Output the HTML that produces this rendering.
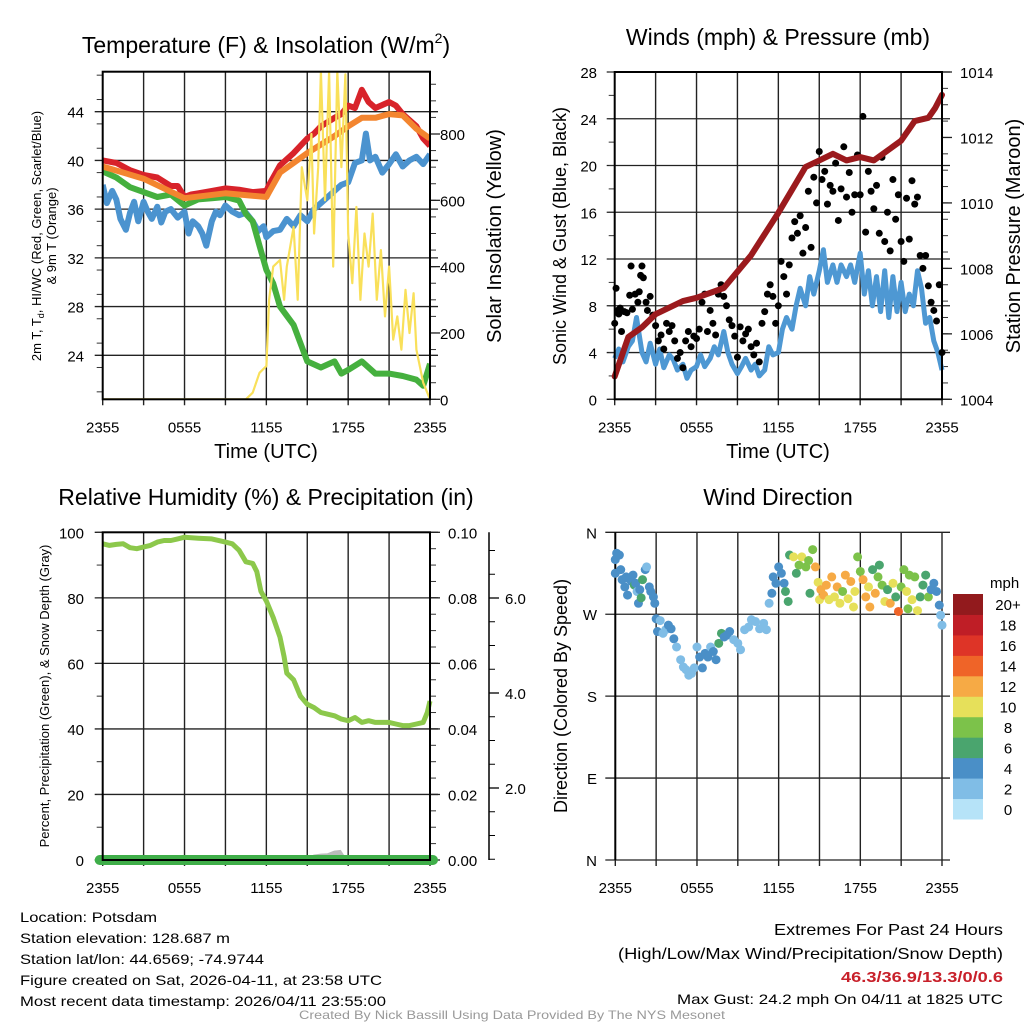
<!DOCTYPE html>
<html><head><meta charset="utf-8"><style>
html,body{margin:0;padding:0;background:#fff;}
svg{display:block;font-family:"Liberation Sans",Arial,sans-serif;}
</style></head><body>
<svg id="fig" width="1024" height="1024" viewBox="0 0 1024 1024" xmlns="http://www.w3.org/2000/svg">
<rect width="1024" height="1024" fill="#fff"/>
<text x="266" y="53" font-size="23" text-anchor="middle">Temperature (F) &amp; Insolation (W/m<tspan font-size="14" dy="-10">2</tspan><tspan dy="10">)</tspan></text>
<text x="778" y="45" font-size="23" text-anchor="middle">Winds (mph) &amp; Pressure (mb)</text>
<text x="266" y="505" font-size="23" text-anchor="middle">Relative Humidity (%) &amp; Precipitation (in)</text>
<text x="778" y="505" font-size="23" text-anchor="middle">Wind Direction</text>
<text x="266" y="458" font-size="20" text-anchor="middle">Time (UTC)</text>
<text x="778" y="458" font-size="20" text-anchor="middle">Time (UTC)</text>
<g transform="translate(41,236) rotate(-90)">
<text x="0" y="0" font-size="13" text-anchor="middle">2m T, T<tspan font-size="9" dy="3">d</tspan><tspan dy="-3">, HI/WC (Red, Green, Scarlet/Blue)</tspan></text>
<text x="0" y="15" font-size="13" text-anchor="middle">&amp; 9m T (Orange)</text></g>
<text transform="translate(501,236) rotate(-90)" font-size="20" text-anchor="middle">Solar Insolation (Yellow)</text>
<text transform="translate(566,236) rotate(-90)" font-size="18" text-anchor="middle">Sonic Wind &amp; Gust (Blue, Black)</text>
<text transform="translate(1020,236) rotate(-90)" font-size="20" text-anchor="middle">Station Pressure (Maroon)</text>
<text transform="translate(49,696) rotate(-90)" font-size="13" text-anchor="middle">Percent, Precipitation (Green), &amp; Snow Depth (Gray)</text>
<text transform="translate(567,696) rotate(-90)" font-size="18" text-anchor="middle">Direction (Colored By Speed)</text>
<g id="layer"></g>
<g font-size="14">
<text x="20" y="922" textLength="137" lengthAdjust="spacingAndGlyphs">Location: Potsdam</text>
<text x="20" y="943" textLength="210" lengthAdjust="spacingAndGlyphs">Station elevation: 128.687 m</text>
<text x="20" y="964" textLength="244" lengthAdjust="spacingAndGlyphs">Station lat/lon: 44.6569; -74.9744</text>
<text x="20" y="985" textLength="362" lengthAdjust="spacingAndGlyphs">Figure created on Sat, 2026-04-11, at 23:58 UTC</text>
<text x="20" y="1006" textLength="366" lengthAdjust="spacingAndGlyphs">Most recent data timestamp: 2026/04/11 23:55:00</text>
</g>
<g text-anchor="end">
<text x="1003" y="935" font-size="16" textLength="229" lengthAdjust="spacingAndGlyphs">Extremes For Past 24 Hours</text>
<text x="1003" y="959" font-size="16" textLength="385" lengthAdjust="spacingAndGlyphs">(High/Low/Max Wind/Precipitation/Snow Depth)</text>
<text x="1003" y="982" font-size="15" font-weight="bold" fill="#c8202a" textLength="162" lengthAdjust="spacingAndGlyphs">46.3/36.9/13.3/0/0.6</text>
<text x="1003" y="1004" font-size="14" textLength="326" lengthAdjust="spacingAndGlyphs">Max Gust: 24.2 mph On 04/11 at 1825 UTC</text>
</g>
<text x="512" y="1019" font-size="12" fill="#999" text-anchor="middle" textLength="426" lengthAdjust="spacingAndGlyphs">Created By Nick Bassill Using Data Provided By The NYS Mesonet</text>
</svg>
<script>
const xTickLabels = ["2355","0555","1155","1755","2355"];
const tempHours = [0,1,2,3,4,5,5.5,6,6.5,7,8,9,10,11,12,12.2,13,14,15,15.5,16,17,17.5,18,18.5,19,19.5,20,21,21.5,22,23,23.5,24];
const tempRed = [40.0,39.8,39.2,38.8,38.6,37.9,37.9,37.0,37.2,37.3,37.5,37.7,37.6,37.4,37.5,38.0,39.6,40.6,41.8,42.2,42.8,43.5,43.8,44.5,44.3,45.8,44.8,44.3,44.8,44.5,43.8,42.8,41.8,41.2];
const orangeHours = [0,3,6,9,12,12.2,13,14,15,16,17,18,19,20,21,22,23,24];
const temp9m = [39.5,38.5,36.9,37.3,37.0,37.4,39.0,39.8,40.6,41.3,42.0,42.8,43.5,43.5,43.8,43.7,42.6,41.8];
const greenHours = [0,1,2,3,4,5,6,7,8,9,10,10.5,11,11.5,12,12.5,13,14,14.5,15,16,17,17.5,18,19,20,21,22,23,23.5,24];
const dewpoint = [39.1,38.6,37.8,37.4,37.0,37.2,36.3,36.8,36.9,37.0,36.7,35.6,35.0,33.0,31.0,29.9,28.0,26.5,25.0,23.5,23.0,23.5,22.5,22.8,23.5,22.5,22.5,22.3,22.0,21.5,23.3];
const blueHours = [0,0.3,0.7,1,1.3,1.7,2,2.3,2.6,3,3.3,3.6,4,4.3,4.6,5,5.5,6,6.3,6.6,7,7.3,7.6,8,8.3,8.6,9,9.5,10,10.5,11,11.4,11.8,12,12.5,13,13.5,14,14.5,15,15.5,16,16.5,17,17.5,18,18.5,19,19.3,19.6,20,20.5,21,21.5,22,22.5,23,23.5,24];
const tempBlue = [38.0,36.5,37.5,36.8,35.2,34.3,35.7,36.6,35.0,36.6,35.8,35.2,36.2,34.9,35.8,36.0,35.3,35.8,34.0,35.0,34.6,34.0,33.0,35.0,35.8,35.5,36.3,35.8,35.5,35.7,35.0,34.2,34.6,33.7,34.2,34.3,35.2,34.6,35.5,35.0,36.0,36.5,37.0,37.5,38.0,38.2,39.8,40.0,42.2,40.0,40.3,39.0,39.7,40.5,39.5,40.0,40.3,39.7,40.5];
const solarHours = [0,10.5,11,11.5,12,12.2,12.5,13,13.3,13.5,14,14.3,14.6,15,15.3,15.5,15.8,16,16.3,16.6,16.9,17.2,17.5,17.8,18,18.3,18.6,18.9,19.2,19.5,19.8,20.1,20.4,20.7,21,21.3,21.6,21.9,22.2,22.5,22.8,23,23.5,24];
const solar = [0,0,20,80,100,300,400,420,300,400,520,300,700,600,800,500,700,990,600,990,400,990,700,980,500,350,580,300,500,400,560,300,450,250,400,180,250,150,330,200,320,150,50,0];
const tempTicks = [24,28,32,36,40,44];
const solarTicks = [0,200,400,600,800];

const presHours = [0,1,2,3,5,6,8,9,10,12,13,14,15,16,17,18,19,20,21,22,23,23.5,24];
const pressure = [1004.7,1005.9,1006.2,1006.6,1007.0,1007.1,1007.4,1007.9,1008.4,1009.7,1010.4,1011.1,1011.3,1011.5,1011.3,1011.4,1011.3,1011.6,1011.9,1012.5,1012.6,1012.9,1013.3];
const windHours = [0,0.3,0.6,1,1.3,1.6,2,2.3,2.6,3,3.3,3.6,4,4.3,4.6,5,5.3,5.6,6,6.3,6.6,7,7.3,7.6,8,8.3,8.6,9,9.3,9.6,10,10.3,10.6,11,11.3,11.6,12,12.3,12.6,13,13.3,13.6,14,14.3,14.6,15,15.3,15.6,16,16.3,16.6,17,17.3,17.6,18,18.3,18.6,18.9,19.2,19.5,19.8,20.1,20.4,20.7,21,21.3,21.6,21.9,22.2,22.5,22.8,23.1,23.4,23.7,24];
const windSpeed = [3.5,4.3,3.2,4.5,5.0,7.0,4.0,3.2,4.8,3.0,4.3,2.7,3.8,3.4,2.5,3.0,1.8,2.5,2.8,3.8,2.8,3.5,4.5,3.8,5.8,4.0,3.0,2.2,2.8,3.5,2.5,3.0,2.0,2.5,4.5,3.8,4.0,6.0,7.0,6.0,8.0,9.5,8.0,10.5,9.0,11.0,12.8,10.0,11.5,10.0,11.5,10.5,11.5,10.0,12.5,9.0,11.0,8.0,10.5,7.5,11.0,7.0,10.5,7.5,10.0,7.5,9.0,8.0,11.0,9.5,6.5,7.0,5.0,4.0,2.5];
const gustHours = [0,0.1,0.2,0.3,0.4,0.5,0.7,0.9,1.1,1.2,1.3,1.5,1.7,1.8,1.9,2.0,2.1,2.3,2.4,2.6,2.8,3.0,3.2,3.4,3.6,3.8,4.0,4.2,4.4,4.6,4.8,5.0,5.2,5.4,5.6,5.8,6.0,6.2,6.4,6.6,6.8,7.0,7.2,7.4,7.6,7.8,8.0,8.2,8.4,8.6,8.8,9.0,9.2,9.4,9.6,9.8,10.0,10.2,10.4,10.6,10.8,11.0,11.2,11.4,11.6,11.8,12.0,12.2,12.4,12.6,12.8,13.0,13.2,13.4,13.6,13.8,14.0,14.2,14.4,14.6,14.8,15.0,15.2,15.4,15.6,15.8,16.0,16.2,16.4,16.6,16.8,17.0,17.2,17.4,17.6,17.8,18.0,18.2,18.4,18.6,18.8,19.0,19.2,19.4,19.6,19.8,20.0,20.2,20.4,20.6,20.8,21.0,21.2,21.4,21.6,21.8,22.0,22.2,22.4,22.6,22.8,23.0,23.2,23.4,23.6,23.8,24.0];
const gusts = [6.5,9.5,7.6,7.3,7.8,5.8,7.5,7.4,8.9,11.4,7.7,9.0,8.3,9.2,10.6,11.4,10.4,8.3,7.6,8.8,7.2,6.3,5.0,5.5,4.3,6.5,5.8,6.3,5.0,3.5,4.0,2.7,5.0,5.8,4.5,5.4,5.2,6.0,8.3,9.0,5.8,7.6,6.5,5.5,9.0,9.8,8.8,8.0,6.8,6.3,5.4,3.6,6.2,5.0,5.6,6.0,4.5,3.8,4.8,3.2,6.5,7.5,9.0,9.8,8.8,6.5,8.0,11.8,10.5,9.0,11.5,13.8,15.2,14.2,15.7,12.5,14.7,17.8,13.0,19.0,16.8,21.2,18.8,19.5,16.7,18.3,17.8,20.2,15.3,18.0,21.6,17.3,19.4,16.0,17.5,20.9,17.5,24.2,14.3,19.5,17.8,16.3,18.3,14.2,20.7,13.5,16.0,12.7,18.8,15.4,17.5,13.5,11.8,17.2,13.7,18.7,16.7,17.3,12.3,11.2,12.3,9.7,8.3,7.6,6.7,9.8,4.0];
const windTicks = [0,4,8,12,16,20,24,28];
const presTicks = [1004,1006,1008,1010,1012,1014];

const rhHours = [0,0.5,1,1.5,2,2.5,3,3.5,4,4.5,5,5.5,6,7,8,9,9.5,10,10.5,11,11.3,11.6,12,12.5,13,13.3,13.5,14,14.5,15,15.5,16,16.5,17,17.5,18,18.5,19,19.5,20,20.5,21,21.5,22,22.5,23,23.5,23.8,24];
const humidity = [96.5,96.0,96.3,96.5,95.3,95.0,95.5,96.0,97.0,97.5,97.5,98.0,98.5,98.2,98.0,97.0,96.5,94.5,91.0,90.5,88.0,82.0,79.0,74.0,68.0,62.0,57.0,55.0,50.0,47.5,46.5,45.0,44.5,44.0,43.0,42.5,43.5,42.0,42.5,42.0,42.0,42.0,41.5,41.0,41.0,41.5,42.0,45.0,48.5];
const snowHours = [15.2,15.5,16,16.5,17,17.4,17.8];
const snowDepth = [0,1.2,1.5,1.6,2.4,2.6,0];
const rhTicks = [0,20,40,60,80,100];
const precipTicks = ["0.00","0.02","0.04","0.06","0.08","0.10"];
const snowTicks = ["2.0","4.0","6.0"];

const dirLabels = ["N","E","S","W","N"];
const dirHours = [0,0,0.1,0.3,0.4,0.5,0.7,0.8,0.9,1,1.2,1.3,1.4,1.5,1.6,1.7,1.8,1.9,2,2.2,2.3,2.5,2.6,2.8,2.9,3,3.1,3.3,3.5,3.7,3.9,4.1,4.3,4.5,4.8,5,5.2,5.4,5.6,5.8,6,6.2,6.4,6.6,6.8,7,7.2,7.4,7.6,7.8,8,8.2,8.4,8.7,9,9.2,9.5,9.8,10,10.3,10.6,10.9,11.1,11.3,11.5,11.6,11.8,12,12.2,12.4,12.5,12.7,12.8,13.1,13.3,13.5,13.7,14,14.2,14.3,14.5,14.7,14.9,15,15.1,15.3,15.5,15.7,15.9,16.1,16.3,16.5,16.7,16.9,17.1,17.3,17.5,17.6,17.8,18,18.2,18.4,18.6,18.7,18.9,19.1,19.3,19.4,19.6,19.8,20,20.2,20.4,20.6,20.8,21,21.2,21.4,21.5,21.6,21.8,22,22.2,22.4,22.6,22.8,23,23.2,23.4,23.6,23.8,23.9,24];
const direction = [330,315,337,335,319,308,300,311,291,309,306,313,302,304,295,282,297,288,308,319,322,300,295,289,282,265,251,263,249,253,258,254,243,234,220,212,209,203,205,211,234,223,211,227,223,234,229,220,238,249,245,247,251,242,238,231,253,256,264,262,254,260,253,282,293,311,304,322,315,304,295,284,335,333,315,324,333,322,329,293,341,322,305,286,297,291,302,286,311,289,300,282,295,313,287,306,278,295,333,317,308,289,300,278,319,293,311,324,302,284,297,282,304,289,273,300,319,295,276,313,286,311,274,289,302,313,289,297,304,295,280,269,258];
const dirSpeed = [4,4,4,4,3,4,3,4,3,4,4,4,6,4,2,4,4,6,6,4,2,4,4,4,4,4,4,2,2,2,4,4,4,2,2,2,2,1,2,2,2,4,4,4,4,2,4,4,6,6,4,4,4,2,2,2,2,2,2,2,2,2,2,2,4,4,4,4,4,4,6,6,6,10,6,7,9,8,8,6,8,12,10,10,12,12,11,10,12,10,12,10,8,12,10,12,10,10,8,7,12,12,10,11,6,12,8,6,8,10,6,12,10,6,13,7,8,10,8,7,10,7,10,6,6,6,8,4,4,4,4,2,2];
const speedBinLabels = ["0","2","4","6","8","10","12","14","16","18","20+"];
const speedBinColors = ["#b6e3f8","#80bde6","#4a8fc7","#4aa56e","#7cc24a","#e6e05a","#f6aa45","#ef6428","#de3427","#bf1e26","#921a1d"];

const NS = "http://www.w3.org/2000/svg";
const layer = document.getElementById("layer");
function mk(tag, attrs, parent) {
  const e = document.createElementNS(NS, tag);
  for (const k in attrs) e.setAttribute(k, attrs[k]);
  (parent || layer).appendChild(e);
  return e;
}
function linScale(d0, d1, r0, r1) { return v => r0 + (v - d0) / (d1 - d0) * (r1 - r0); }

function panelFrame(L, R, T, B, name) {
  const g = mk("g", {});
  
  
  const xs = linScale(0, 24, L, R);
  for (let h = 0; h <= 24; h += 3) {
    const vl = mk("line", {x1: xs(h), x2: xs(h), y1: T, y2: B + 6, stroke: "#222", "stroke-width": 1.4}, g);
    
    
  }
  xTickLabels.forEach((lab, i) => {
    const t = mk("text", {x: xs(i * 6), y: B + 33, "font-size": 15, "text-anchor": "middle"}, g);
    t.textContent = lab;
    
    
  });
  return {g, xs};
}
function hGrid(g, ys, ticks, L, R, leftLabels, x) {
  ticks.forEach((v, i) => {
    const y = ys(v);
    const ln = mk("line", {x1: L - 8, x2: R + 8, y1: y, y2: y, stroke: "#222", "stroke-width": 1.3}, g);
    
    
    if (leftLabels) {
      const t = mk("text", {x: x, y: y + 6, "font-size": 15, "text-anchor": "end"}, g);
      t.textContent = leftLabels[i];
      
      
    }
  });
}
function minorTicks(g, xPos, y0, y1, n, dir) {
  for (let i = 0; i <= n; i++) {
    const y = y0 + (y1 - y0) * i / n;
    mk("line", {x1: xPos, x2: xPos + dir * 6, y1: y, y2: y, stroke: "#333", "stroke-width": 1}, g);
  }
}
function rightLabels(g, ys, ticks, labels, x, R) {
  ticks.forEach((v, i) => {
    const y = ys(v);
    mk("line", {x1: R, x2: R + 10, y1: y, y2: y, stroke: "#222", "stroke-width": 1.3}, g);
    const t = mk("text", {x: x, y: y + 6, "font-size": 15}, g);
    t.textContent = labels[i];
    
    
  });
}
function pathFrom(xsArr, ysArr, xs, ys) {
  return xsArr.map((h, i) => (i ? "L" : "M") + xs(h).toFixed(1) + "," + ys(ysArr[i]).toFixed(1)).join("");
}
function border(g, L, R, T, B) {
  mk("rect", {x: L, y: T, width: R - L, height: B - T, fill: "none", stroke: "#000", "stroke-width": 2}, g);
}

(function () {
  const L = 102.7, R = 430, T = 71.7, B = 399.3;
  const {g, xs} = panelFrame(L, R, T, B, "temperature-panel");
  const ys = linScale(24, 44, 355.3, 111.7);
  const ysS = linScale(0, 800, 399.3, 134);
  hGrid(g, ys, tempTicks, L, R, tempTicks.map(String), 84);
  minorTicks(g, L, ys(47), ys(21), 13, -1);
  minorTicks(g, R, ysS(950), ysS(0), 19, 1);
  rightLabels(g, ysS, solarTicks, solarTicks.map(String), 440, R);
  const cl = mk("clipPath", {id: "c1"}); mk("rect", {x: L, y: T, width: R - L, height: B - T}, cl);
  const pg = mk("g", {"clip-path": "url(#c1)"}, g);
  const series = [
    [blueHours, tempBlue, "#4b93cf", 6, "temp-blue-line"],
    [greenHours, dewpoint, "#45b03e", 6, "dewpoint-line"],
    [tempHours, tempRed, "#d8232a", 6, "temp-red-line"],
    [orangeHours, temp9m, "#f3852f", 6, "temp-9m-line"],
  ];
  series.forEach(s => {
    const p = mk("path", {d: pathFrom(s[0], s[1], xs, ys), fill: "none", stroke: s[2], "stroke-width": s[3], "stroke-linejoin": "round"}, pg);
    
    
  });
  const ps = mk("path", {d: pathFrom(solarHours, solar, xs, ysS), fill: "none", stroke: "#f9e05a", "stroke-width": 2.2, "stroke-linejoin": "round"}, pg);
  
  
  border(g, L, R, T, B);
})();

(function () {
  const L = 614.7, R = 942, T = 72, B = 399.3;
  const {g, xs} = panelFrame(L, R, T, B, "wind-panel");
  const ys = linScale(0, 28, B, T);
  const ysP = linScale(1004, 1014, B, T);
  hGrid(g, ys, windTicks, L, R, windTicks.map(String), 597);
  minorTicks(g, L, ys(28), ys(0), 14, -1);
  minorTicks(g, R, ysP(1014), ysP(1004), 20, 1);
  rightLabels(g, ysP, presTicks, presTicks.map(String), 960, R);
  const cl = mk("clipPath", {id: "c2"}); mk("rect", {x: L - 4, y: T - 4, width: R - L + 8, height: B - T + 8}, cl);
  const pg = mk("g", {"clip-path": "url(#c2)"}, g);
  const wl = mk("path", {d: pathFrom(windHours, windSpeed, xs, ys), fill: "none", stroke: "#4e98d3", "stroke-width": 5, "stroke-linejoin": "round"}, pg);
  
  
  gustHours.forEach((h, i) => {
    const c = mk("circle", {cx: xs(h), cy: ys(gusts[i]), r: 3.5, fill: "#000"}, pg);
    
    
  });
  const pl = mk("path", {d: pathFrom(presHours, pressure, xs, ysP), fill: "none", stroke: "#9b1a1d", "stroke-width": 6, "stroke-linejoin": "round", "stroke-linecap": "round"}, pg);
  
  
  border(g, L, R, T, B);
})();

(function () {
  const L = 102.7, R = 430, T = 532.3, B = 860;
  const {g, xs} = panelFrame(L, R, T, B, "humidity-panel");
  const ys = linScale(0, 100, B, T);
  hGrid(g, ys, rhTicks, L, R, rhTicks.map(String), 84);
  minorTicks(g, L, T, B, 10, -1);
  minorTicks(g, R, T, B, 20, 1);
  rightLabels(g, ys, rhTicks, precipTicks, 448, R);
  const ysSnow = linScale(2, 6, 788, 598);
  const ax = mk("line", {x1: 489, x2: 489, y1: T, y2: B, stroke: "#000", "stroke-width": 1.5}, g);
  
  
  for (let v = 0.5; v <= 7; v += 0.5) {
    const y = ysSnow(v);
    if (y < T || y > B) continue;
    mk("line", {x1: 489, x2: 495, y1: y, y2: y, stroke: "#000", "stroke-width": 1}, g);
  }
  snowTicks.forEach(lab => {
    const y = ysSnow(parseFloat(lab));
    mk("line", {x1: 489, x2: 499, y1: y, y2: y, stroke: "#000", "stroke-width": 1.3}, g);
    const t = mk("text", {x: 505, y: y + 6, "font-size": 15}, g);
    t.textContent = lab;
    
    
  });
  const sd = mk("path", {d: pathFrom(snowHours, snowDepth, xs, ys) + "Z", fill: "#bbb", stroke: "#bbb", "stroke-width": 3}, g);
  
  
  const pr = mk("line", {x1: L - 3, x2: R + 3, y1: B, y2: B, stroke: "#3fae49", "stroke-width": 10, "stroke-linecap": "round"}, g);
  
  
  const rl = mk("path", {d: pathFrom(rhHours, humidity, xs, ys), fill: "none", stroke: "#8cc84b", "stroke-width": 5, "stroke-linejoin": "round"}, g);
  
  
  border(g, L, R, T, B);
})();

(function () {
  const L = 615.3, R = 942, T = 532.3, B = 860;
  const {g, xs} = panelFrame(L, R, T, B, "wind-direction-panel");
  const ys = linScale(0, 360, B, T);
  dirLabels.forEach((lab, i) => {
    const y = ys(i * 90);
    const ln = mk("line", {x1: L - 10, x2: R + 8, y1: y, y2: y, stroke: "#222", "stroke-width": 1.3}, g);
    
    
    const t = mk("text", {x: 597, y: y + 6, "font-size": 15, "text-anchor": "end"}, g);
    t.textContent = lab;
    
    
  });
  mk("line", {x1: L, x2: L, y1: T, y2: B, stroke: "#000", "stroke-width": 2}, g);
  dirHours.forEach((h, i) => {
    const bin = Math.min(10, Math.floor(dirSpeed[i] / 2 + 0.5));
    const c = mk("circle", {cx: xs(h), cy: ys(direction[i]), r: 4.5, fill: speedBinColors[bin]}, g);
    
    
  });
  const cb = mk("g", {}, g);
  
  
  const top = 594, bot = 819, h = (bot - top) / speedBinColors.length;
  speedBinColors.forEach((col, i) => {
    const y = bot - (i + 1) * h;
    const r = mk("rect", {x: 953, y: y, width: 30, height: h + 0.5, fill: col}, cb);
    
    
    const t = mk("text", {x: 1008, y: y + h / 2 + 6, "font-size": 15, "text-anchor": "middle"}, cb);
    t.textContent = speedBinLabels[i];
    
    
  });
  const u = mk("text", {x: 990, y: 588, "font-size": 15}, cb);
  u.textContent = "mph";
  
  
})();
</script>
</body></html>
